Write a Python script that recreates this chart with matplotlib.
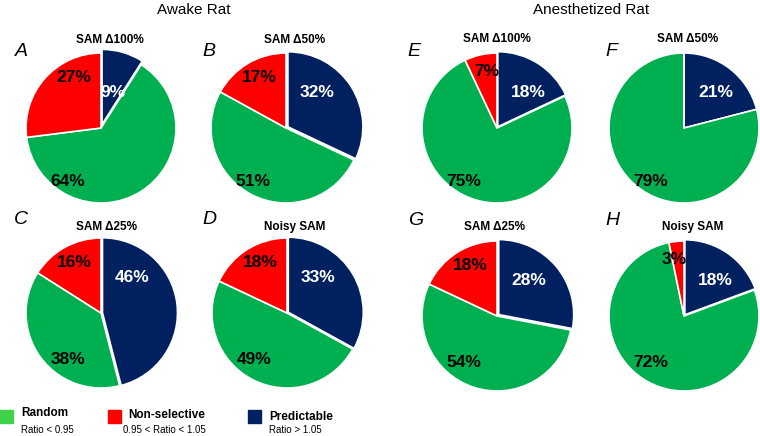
import matplotlib
matplotlib.use('Agg')
import matplotlib.pyplot as plt

plt.rcParams['font.family'] = ['Liberation Sans', 'DejaVu Sans']

# data: order is Predictable, Random, Non-selective
letters = ['A', 'B', 'C', 'D', 'E', 'F', 'G', 'H']
titles = ['SAM \u0394100%', 'SAM \u039450%', 'SAM \u039425%', 'Noisy SAM',
          'SAM \u0394100%', 'SAM \u039450%', 'SAM \u039425%', 'Noisy SAM']
predictable = [9, 32, 46, 33, 18, 21, 28, 18]
random_ = [64, 51, 38, 49, 75, 79, 54, 72]
nonselective = [27, 17, 16, 18, 7, 0, 18, 3]

legend_names = ['Random', 'Non-selective', 'Predictable']
legend_notes = ['Ratio < 0.95', '0.95 < Ratio < 1.05', 'Ratio > 1.05']

c_blue = '#002060'
c_green = '#00B050'
c_red = '#FF0000'

W, H = 760, 436
fig = plt.figure(figsize=(W / 100, H / 100), dpi=100)

# pixel layout
R = 75
centers = [(101, 128), (286, 128), (101, 313), (287, 313),
           (497, 128), (684, 128), (497, 316), (684, 316)]
title_pos = [(110, 40), (295, 40), (107, 227), (295, 227),
             (497, 39), (688, 39), (494, 227), (693, 227)]
letter_pos = [(21, 51), (209, 51), (21, 219), (209, 219),
              (414, 52), (611, 52), (416, 220), (612, 220)]
explode_b = [0.05, 0.03, 0.02, 0.02, 0.02, 0.0, 0.03, 0.02]


def fx(px):
    return px / W


def fy(py):
    return 1 - py / H


for i in range(8):
    cx, cy = centers[i]
    s = 1.15
    ax = fig.add_axes([fx(cx - s * R), fy(cy + s * R), 2 * s * R / W, 2 * s * R / H])
    vals = [predictable[i], random_[i], nonselective[i]]
    wedges, _ = ax.pie(vals, colors=[c_blue, c_green, c_red], startangle=90,
                       counterclock=False, explode=[explode_b[i], 0, 0],
                       wedgeprops=dict(edgecolor='white', linewidth=1.2))
    ax.set_xlim(-s, s)
    ax.set_ylim(-s, s)
    ax.set_aspect('equal')
    ax.axis('off')

    # labels
    row2 = i in (2, 3, 6, 7)
    bx = 0.42 if predictable[i] >= 15 else 0.16
    ax.text(bx, 0.47, '%d%%' % predictable[i], color='white', fontsize=12.5,
            fontweight='bold', ha='center', va='center')
    gy = -0.62 if row2 else -0.72
    ax.text(-0.44, gy, '%d%%' % random_[i], color='black', fontsize=12.5,
            fontweight='bold', ha='center', va='center')
    if nonselective[i] > 0:
        if nonselective[i] >= 10:
            rx, ry = -0.36, 0.68
        else:
            rx, ry = -0.13, 0.75
        ax.text(rx, ry, '%d%%' % nonselective[i], color='black', fontsize=12.5,
                fontweight='bold', ha='center', va='center')

    fig.text(fx(title_pos[i][0]), fy(title_pos[i][1]), titles[i], fontsize=8.5,
             fontweight='bold', ha='center', va='center')
    fig.text(fx(letter_pos[i][0]), fy(letter_pos[i][1]), letters[i], fontsize=14,
             fontstyle='italic', ha='center', va='center')

fig.text(fx(194), fy(10), 'Awake Rat', fontsize=11, ha='center', va='center')
fig.text(fx(591), fy(10), 'Anesthetized Rat', fontsize=11, ha='center', va='center')

# legend
leg_colors = ['#3ED24B', c_red, c_blue]
sq_x = [0, 108, 248]
name_x = [21, 128, 269]
name_y = [413, 415, 417]
note_x = [21, 123, 269]
for k in range(3):
    fig.patches.append(plt.Rectangle((fx(sq_x[k]), fy(423)), 13 / W, 13 / H,
                                     color=leg_colors[k], transform=fig.transFigure))
    fig.text(fx(name_x[k]), fy(name_y[k]), legend_names[k], fontsize=8.5,
             fontweight='bold', ha='left', va='center')
    fig.text(fx(note_x[k]), fy(430), legend_notes[k], fontsize=7,
             ha='left', va='center')

fig.savefig('out.png', dpi=100)
